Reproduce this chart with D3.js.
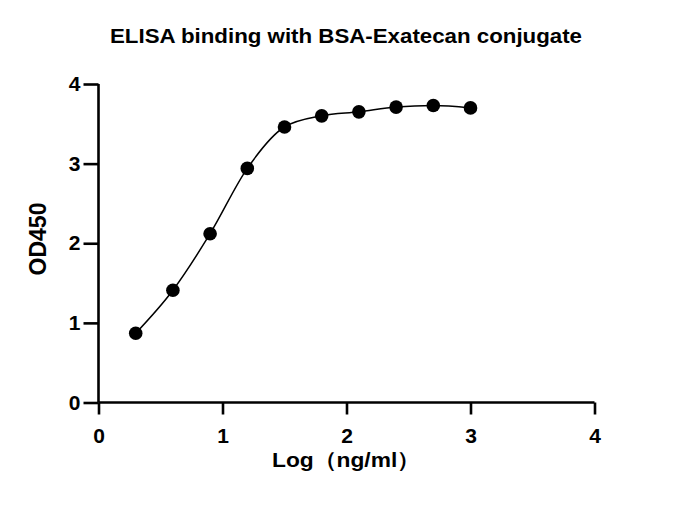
<!DOCTYPE html>
<html>
<head>
<meta charset="utf-8">
<script src="https://cdn.jsdelivr.net/npm/d3@7"></script>
<style>
  body { margin: 0; background: #fff; }
  text { font-family: "Liberation Sans", Arial, sans-serif; font-weight: bold; fill: #000; }
</style>
</head>
<body>
<svg id="chart" width="674" height="512"></svg>
<script>
// data
var logConc = [0.3, 0.6, 0.9, 1.2, 1.5, 1.8, 2.1, 2.4, 2.7, 3.0];
var od450 = [0.87, 1.41, 2.12, 2.94, 3.46, 3.60, 3.65, 3.71, 3.73, 3.70];
var xTicks = [0, 1, 2, 3, 4];
var yTicks = [0, 1, 2, 3, 4];

var titleText = "ELISA binding with BSA-Exatecan conjugate";
var xLabel = "Log（ng/ml）";
var yLabel = "OD450";

var svg = d3.select("#chart");
var margin = { left: 98.5, right: 79.5, top: 84, bottom: 109.5 };
var width = 674 - margin.left - margin.right;
var height = 512 - margin.top - margin.bottom;

var points = logConc.map(function (d, i) { return { x: d, y: od450[i] }; });

var x = d3.scaleLinear().domain([0, 4]).range([0, width]);
var y = d3.scaleLinear().domain([0, 4]).range([height, 0]);

var g = svg.append("g").attr("transform", "translate(" + margin.left + "," + margin.top + ")");

// axes
var xAxis = g.append("g")
    .attr("transform", "translate(0," + height + ")")
    .call(d3.axisBottom(x).tickValues(xTicks).tickSize(12).tickPadding(14).tickFormat(d3.format("d")));
var yAxis = g.append("g")
    .call(d3.axisLeft(y).tickValues(yTicks).tickSize(15).tickPadding(3).tickFormat(d3.format("d")));

[xAxis, yAxis].forEach(function (a) {
    a.select(".domain").attr("stroke", "#000").attr("stroke-width", 2.6);
    a.selectAll(".tick line").attr("stroke", "#000").attr("stroke-width", 2.6);
    a.selectAll(".tick text").style("font-size", "21px").style("font-family", "Liberation Sans, Arial, sans-serif").style("font-weight", "bold");
});
// axis lines without the end caps
xAxis.select(".domain").attr("d", "M0,0H" + width);
yAxis.select(".domain").attr("d", "M0,0V" + height);

// fitted curve
var line = d3.line()
    .x(function (d) { return x(d.x); })
    .y(function (d) { return y(d.y); })
    .curve(d3.curveMonotoneX);

g.append("path")
    .datum(points)
    .attr("d", line)
    .attr("fill", "none")
    .attr("stroke", "#000")
    .attr("stroke-width", 1.5);

g.selectAll("circle")
    .data(points)
    .enter()
    .append("circle")
    .attr("cx", function (d) { return x(d.x); })
    .attr("cy", function (d) { return y(d.y); })
    .attr("r", 6.8)
    .attr("fill", "#000");

// labels
svg.append("text")
    .attr("x", 346).attr("y", 43)
    .attr("text-anchor", "middle")
    .attr("textLength", 472)
    .attr("lengthAdjust", "spacingAndGlyphs")
    .style("font-size", "20px")
    .text(titleText);

svg.append("text")
    .attr("x", 346).attr("y", 467)
    .attr("text-anchor", "middle")
    .attr("textLength", 148)
    .attr("lengthAdjust", "spacingAndGlyphs")
    .style("font-size", "21px")
    .text(xLabel);

svg.append("text")
    .attr("transform", "translate(46,239) rotate(-90)")
    .attr("text-anchor", "middle")
    .style("font-size", "23px")
    .text(yLabel);
</script>
</body>
</html>
